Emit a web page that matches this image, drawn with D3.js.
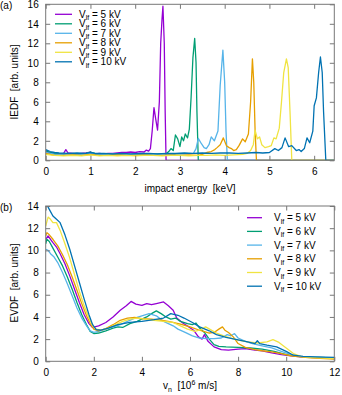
<!DOCTYPE html>
<html><head><meta charset="utf-8">
<script src="https://cdn.jsdelivr.net/npm/d3@7"></script>
<style>body{margin:0;background:#fff}svg{display:block;font-family:"Liberation Sans",Arial,Helvetica,sans-serif}text{white-space:pre}</style>
</head><body><svg id="c" width="342" height="395"></svg>
<script>
const labels = ["5","6","7","8","9","10"];
const colors = ["#9400d3","#009e73","#56b4e9","#e69f00","#f0e442","#0072b2"];
const xTicksA = [0,1,2,3,4,5,6];
const yTicksA = [0,2,4,6,8,10,12,14,16];
const xTicksB = [0,2,4,6,8,10,12];
const yTicksB = [0,2,4,6,8,10,12,14];

const iedf5 = [[0,0.9],[0.05,0.85],[0.1,0.75],[0.2,0.7],[0.3,0.65],[0.4,0.7],[0.45,1.1],[0.5,0.75],[0.6,0.7],[0.7,0.65],[0.8,0.7],[0.9,0.75],[1.0,0.85],[1.05,0.7],[1.1,0.65],[1.2,0.7],[1.3,0.65],[1.4,0.7],[1.5,0.7],[1.6,0.75],[1.7,0.8],[1.8,0.8],[1.9,0.85],[2.0,0.8],[2.1,0.9],[2.2,0.85],[2.25,1.05],[2.3,0.95],[2.34,1.2],[2.38,3.0],[2.42,5.4],[2.46,4.2],[2.5,3.1],[2.54,6],[2.57,12],[2.6,14.5],[2.62,15.8],[2.65,12],[2.67,5],[2.69,0],[6.45,0]];
const iedf6 = [[0,1.0],[0.1,0.8],[0.2,0.7],[0.3,0.65],[0.4,0.6],[0.5,0.7],[0.6,0.65],[0.7,0.6],[0.8,0.65],[0.9,0.7],[1.0,0.85],[1.1,0.7],[1.2,0.6],[1.3,0.65],[1.5,0.6],[1.7,0.65],[1.9,0.6],[2.1,0.65],[2.3,0.6],[2.5,0.65],[2.7,0.7],[2.75,0.9],[2.8,1.2],[2.85,1.0],[2.9,2.6],[2.95,2.2],[3.0,1.4],[3.04,2.4],[3.08,2.0],[3.12,2.7],[3.17,2.3],[3.21,3.2],[3.25,6.5],[3.29,10.5],[3.33,12.5],[3.36,10],[3.38,5],[3.41,0],[6.45,0]];
const iedf7 = [[0,0.8],[0.1,0.7],[0.2,0.6],[0.3,0.6],[0.5,0.65],[0.7,0.6],[0.9,0.65],[1.0,0.75],[1.1,0.6],[1.3,0.6],[1.5,0.65],[1.7,0.6],[1.9,0.6],[2.1,0.65],[2.3,0.6],[2.5,0.6],[2.7,0.65],[2.9,0.6],[3.1,0.65],[3.3,0.7],[3.36,1.2],[3.41,2.25],[3.48,1.7],[3.54,1.3],[3.59,1.2],[3.65,1.6],[3.7,2.4],[3.77,2.0],[3.85,3.0],[3.9,7.7],[3.96,11.3],[4.0,8],[4.03,3],[4.06,0],[6.45,0]];
const iedf8 = [[0,0.7],[0.1,0.6],[0.2,0.5],[0.4,0.5],[0.6,0.55],[0.8,0.5],[1.0,0.6],[1.2,0.5],[1.4,0.5],[1.6,0.55],[1.8,0.5],[2.0,0.5],[2.2,0.55],[2.4,0.5],[2.6,0.5],[2.8,0.55],[3.0,0.5],[3.2,0.55],[3.4,0.5],[3.5,0.6],[3.6,0.8],[3.7,0.9],[3.78,1.1],[3.83,1.3],[3.9,1.6],[3.97,2.3],[4.04,1.5],[4.1,1.3],[4.15,1.2],[4.2,1.0],[4.26,1.1],[4.32,1.5],[4.4,2.2],[4.46,1.9],[4.53,2.7],[4.58,6.0],[4.62,10.4],[4.65,8],[4.68,3],[4.71,0],[6.45,0]];
const iedf9 = [[0,0.6],[0.1,0.55],[0.2,0.5],[0.4,0.45],[0.6,0.5],[0.8,0.45],[1.0,0.55],[1.2,0.45],[1.4,0.5],[1.6,0.45],[1.8,0.5],[2.0,0.45],[2.2,0.5],[2.4,0.5],[2.6,0.45],[2.8,0.5],[3.0,0.5],[3.2,0.45],[3.4,0.5],[3.6,0.5],[3.8,0.55],[4.0,0.5],[4.2,0.55],[4.4,0.6],[4.5,0.7],[4.58,1.0],[4.64,1.6],[4.68,3.1],[4.73,2.2],[4.78,2.4],[4.83,1.6],[4.9,1.3],[4.98,1.4],[5.04,1.5],[5.1,2.3],[5.15,2.2],[5.22,3.3],[5.27,6.0],[5.32,9],[5.38,10.4],[5.42,9.5],[5.46,5],[5.5,0],[6.45,0]];
const iedf10 = [[0,1.1],[0.1,0.9],[0.2,0.8],[0.3,0.75],[0.5,0.7],[0.7,0.75],[0.9,0.7],[1.0,0.8],[1.1,0.7],[1.3,0.7],[1.5,0.65],[1.7,0.7],[1.9,0.65],[2.1,0.7],[2.3,0.7],[2.5,0.65],[2.7,0.7],[2.9,0.7],[3.1,0.75],[3.3,0.7],[3.5,0.75],[3.7,0.7],[3.9,0.75],[4.1,0.75],[4.3,0.7],[4.5,0.75],[4.7,0.8],[4.85,0.75],[5.0,0.8],[5.12,1.2],[5.2,1.0],[5.28,1.3],[5.35,2.3],[5.43,1.4],[5.5,1.5],[5.6,1.0],[5.66,1.1],[5.71,0.9],[5.78,1.2],[5.84,2.3],[5.9,1.8],[5.97,3.0],[6.0,5.6],[6.05,6.4],[6.1,9],[6.14,10.6],[6.18,9],[6.21,5],[6.26,0],[6.45,0]];

const evdf5 = [[0,11.0],[0.1,11.3],[0.2,11.0],[0.3,10.7],[0.45,10.3],[0.6,9.7],[0.8,8.8],[1.0,7.7],[1.2,6.5],[1.4,5.3],[1.6,4.2],[1.8,3.4],[1.95,3.05],[2.2,3.2],[2.5,3.5],[2.8,4.0],[3.1,4.6],[3.35,5.0],[3.55,5.4],[3.75,5.15],[4.0,5.05],[4.2,5.2],[4.4,5.1],[4.6,5.2],[4.9,5.35],[5.1,5.0],[5.3,4.6],[5.45,3.9],[5.7,3.45],[5.95,3.1],[6.15,2.8],[6.35,2.2],[6.5,2.0],[6.6,2.4],[6.75,1.8],[7.0,1.3],[7.3,1.05],[7.6,1.0],[8.0,1.1],[8.3,1.15],[8.7,1.0],[9.0,0.95],[9.4,0.75],[9.8,0.6],[10.2,0.5],[10.6,0.4],[11.0,0.35],[11.5,0.3],[12,0.25]];
const evdf6 = [[0,10.6],[0.05,11.0],[0.15,10.8],[0.3,10.2],[0.5,9.4],[0.7,8.6],[0.9,7.6],[1.1,6.5],[1.3,5.3],[1.5,4.2],[1.7,3.3],[1.85,2.7],[2.0,2.5],[2.2,2.55],[2.5,2.75],[2.8,3.0],[3.0,3.1],[3.2,3.05],[3.5,3.4],[3.8,3.6],[4.0,3.8],[4.2,4.0],[4.4,4.3],[4.6,4.55],[4.8,4.3],[5.0,4.0],[5.2,3.8],[5.4,3.9],[5.6,3.6],[5.9,3.4],[6.1,3.3],[6.25,3.45],[6.4,3.0],[6.6,2.6],[6.8,2.0],[7.0,1.5],[7.2,1.35],[7.5,1.3],[8.0,1.25],[8.5,1.2],[9.0,1.1],[9.5,0.9],[10.0,0.6],[10.5,0.45],[11.0,0.38],[12,0.3]];
const evdf7 = [[0,10.1],[0.1,10.0],[0.2,9.7],[0.35,9.4],[0.5,8.9],[0.7,8.0],[0.9,7.0],[1.1,5.9],[1.3,4.8],[1.5,3.9],[1.7,3.2],[1.85,2.75],[2.0,2.6],[2.2,2.7],[2.5,2.9],[2.8,3.1],[3.1,3.3],[3.4,3.6],[3.7,3.9],[4.0,4.1],[4.3,4.3],[4.6,4.1],[4.9,3.6],[5.1,3.4],[5.3,3.2],[5.5,2.9],[5.8,2.6],[6.1,2.3],[6.4,2.1],[6.7,2.05],[7.0,2.05],[7.3,2.1],[7.55,2.4],[7.7,2.3],[7.85,2.5],[8.0,2.1],[8.3,1.8],[8.6,1.6],[9.0,1.4],[9.4,1.2],[9.8,0.9],[10.2,0.6],[10.6,0.45],[11.0,0.38],[12,0.3]];
const evdf8 = [[0,11.3],[0.05,11.6],[0.15,11.4],[0.3,11.0],[0.5,10.4],[0.7,9.6],[0.9,8.7],[1.1,7.6],[1.3,6.4],[1.5,5.2],[1.7,4.1],[1.85,3.4],[2.0,2.9],[2.2,2.75],[2.5,2.95],[2.8,3.3],[3.1,3.7],[3.4,3.9],[3.7,3.95],[4.0,3.85],[4.4,3.8],[4.8,3.7],[5.2,3.55],[5.6,3.35],[6.0,3.1],[6.4,2.8],[6.8,2.55],[7.0,2.6],[7.2,2.9],[7.35,3.1],[7.45,2.8],[7.6,2.6],[7.8,2.2],[8.0,1.6],[8.3,1.25],[8.7,1.05],[9.0,0.95],[9.4,0.85],[9.8,0.7],[10.2,0.5],[10.6,0.4],[11.0,0.32],[12,0.2]];
const evdf9 = [[0,12.2],[0.1,13.0],[0.2,12.8],[0.3,12.5],[0.45,12.5],[0.6,11.8],[0.8,10.6],[1.0,9.3],[1.2,7.8],[1.4,6.3],[1.6,5.0],[1.8,3.9],[1.95,3.2],[2.1,2.9],[2.3,2.8],[2.6,3.0],[2.9,3.3],[3.2,3.6],[3.5,3.8],[3.8,3.9],[4.1,3.8],[4.5,3.7],[4.9,3.6],[5.3,3.5],[5.6,3.2],[5.9,2.9],[6.2,2.7],[6.45,2.85],[6.65,3.1],[6.85,2.85],[7.1,2.55],[7.4,2.3],[7.7,2.1],[8.0,1.9],[8.4,1.75],[8.8,1.65],[9.2,1.75],[9.45,1.95],[9.7,1.7],[10.0,1.2],[10.3,0.7],[10.6,0.45],[11.0,0.35],[12,0.25]];
const evdf10 = [[0,13.9],[0.05,14.1],[0.15,13.7],[0.3,13.1],[0.45,12.8],[0.6,12.5],[0.8,11.4],[1.0,10.1],[1.2,8.6],[1.4,7.1],[1.6,5.6],[1.8,4.2],[1.95,3.3],[2.1,2.85],[2.3,2.8],[2.6,3.0],[3.0,3.3],[3.5,3.5],[4.0,3.6],[4.5,3.75],[4.9,3.9],[5.2,4.3],[5.5,4.15],[5.75,3.9],[6.1,3.5],[6.4,3.1],[6.8,2.75],[7.1,2.4],[7.5,2.15],[7.95,1.95],[8.4,1.75],[8.7,1.6],[8.8,1.85],[8.9,1.6],[9.2,1.45],[9.6,1.3],[10.0,0.9],[10.3,0.55],[10.7,0.45],[11.2,0.4],[12,0.35]];

const iedf = [iedf5,iedf6,iedf7,iedf8,iedf9,iedf10];
const evdf = [evdf5,evdf6,evdf7,evdf8,evdf9,evdf10];

const svg = d3.select("#c");
const FS = 10;

function panel(cfg){
  const x = d3.scaleLinear().domain(cfg.xd).range([45.7,334.3]);
  const y = d3.scaleLinear().domain(cfg.yd).range([cfg.y0,cfg.y1]);
  const g = svg.append("g");
  const line = d3.line().x(d=>x(d[0])).y(d=>y(d[1]));
  const clipId = "clip"+cfg.id;
  svg.append("clipPath").attr("id",clipId).append("rect")
    .attr("x",45.7).attr("y",cfg.y1).attr("width",288.6).attr("height",cfg.y0-cfg.y1);
  const lg = g.append("g").attr("clip-path","url(#"+clipId+")");
  cfg.data.forEach((s,i)=>{
    lg.append("path").datum(s).attr("d",line).attr("fill","none")
      .attr("stroke",colors[i]).attr("stroke-width",1.3).attr("stroke-linejoin","round");
  });
  const tl = 4.5;
  const axB = d3.axisBottom(x).tickValues(cfg.xt).tickSize(-tl).tickPadding(8).tickFormat(d3.format("d"));
  const axT = d3.axisTop(x).tickValues(cfg.xt).tickSize(-tl).tickFormat("");
  const axL = d3.axisLeft(y).tickValues(cfg.yt).tickSize(-tl).tickPadding(8).tickFormat(d3.format("d"));
  const axR = d3.axisRight(y).tickValues(cfg.yt).tickSize(-tl).tickFormat("");
  const gb = g.append("g").attr("transform",`translate(0,${cfg.y0})`).call(axB);
  const gt = g.append("g").attr("transform",`translate(0,${cfg.y1})`).call(axT);
  const gl = g.append("g").attr("transform",`translate(45.7,0)`).call(axL);
  const gr = g.append("g").attr("transform",`translate(334.3,0)`).call(axR);
  [gb,gt,gl,gr].forEach(a=>{
    a.select(".domain").remove();
    a.selectAll(".tick line").attr("stroke","#777").attr("stroke-width",1);
    a.selectAll("text").attr("font-size",FS).attr("fill","#000").attr("font-family",null);
    a.attr("font-family",null);
  });
  gl.selectAll("text").attr("dx",1);
  g.append("rect").attr("x",45.7).attr("y",cfg.y1).attr("width",288.6).attr("height",cfg.y0-cfg.y1)
    .attr("fill","none").attr("stroke","#777").attr("stroke-width",1);
  labels.forEach((l,i)=>{
    const yy = cfg.lg.y + cfg.lg.dy*i;
    g.append("line").attr("x1",cfg.lg.x1).attr("x2",cfg.lg.x2).attr("y1",yy).attr("y2",yy)
      .attr("stroke",colors[i]).attr("stroke-width",1.3);
    const t = g.append("text").attr("x",cfg.lg.tx).attr("y",yy+3.5).attr("font-size",FS);
    t.append("tspan").text("V");
    t.append("tspan").attr("font-size",7).attr("dy",2.5).text("lf");
    t.append("tspan").attr("dy",-2.5).text(" = "+l+" kV");
  });
  return g;
}

panel({id:"a",xd:[0,6.45],yd:[0,16],y0:160.3,y1:4.3,data:iedf,xt:xTicksA,yt:yTicksA,
  lg:{x1:55,x2:72,tx:79,y:14.3,dy:9.5}});
panel({id:"b",xd:[0,12],yd:[0,14],y0:361.3,y1:206,data:evdf,xt:xTicksB,yt:yTicksB,
  lg:{x1:247,x2:262,tx:274,y:217.7,dy:13.7}});

svg.append("text").attr("x",0).attr("y",9).attr("font-size",FS).text("(a)");
svg.append("text").attr("x",0).attr("y",211).attr("font-size",FS).text("(b)");
svg.append("text").attr("transform","translate(18,82) rotate(-90)").attr("text-anchor","middle")
  .attr("font-size",FS).text("IEDF  [arb. units]");
svg.append("text").attr("transform","translate(18,283) rotate(-90)").attr("text-anchor","middle")
  .attr("font-size",FS).text("EVDF  [arb. units]");
svg.append("text").attr("x",190).attr("y",192).attr("text-anchor","middle").attr("font-size",FS)
  .text("impact energy  [keV]");
const xl = svg.append("text").attr("x",190).attr("y",389).attr("text-anchor","middle").attr("font-size",FS);
xl.append("tspan").text("v");
xl.append("tspan").attr("font-size",7).attr("dy",2.5).text("n");
xl.append("tspan").attr("dy",-2.5).text("  [10");
xl.append("tspan").attr("font-size",7).attr("dy",-4).text("6");
xl.append("tspan").attr("dy",4).text(" m/s]");
</script></body></html>
